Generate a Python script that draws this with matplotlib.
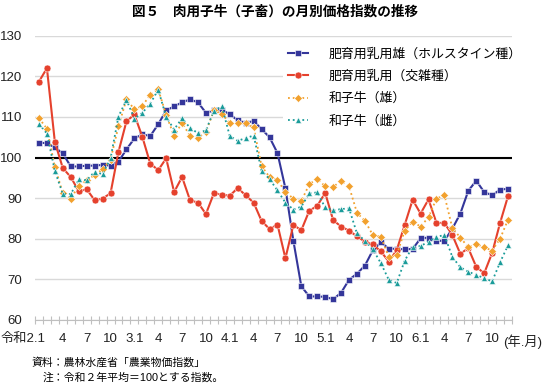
import numpy as np
import matplotlib
matplotlib.use("Agg")
import matplotlib.pyplot as plt
import matplotlib.transforms as mtransforms

plt.rcParams['font.family'] = ['Liberation Sans', 'Noto Sans CJK JP', 'DejaVu Sans']

# ============================================================================
# DATA (monthly index, 令和2.1 - 令和6.12, 令和2年平均 = 100)
# ============================================================================

holstein = [103.7, 103.5, 102.5, 101.0, 97.8, 97.8, 98.0, 98.0, 98.2, 98.0,
            99.0, 102.0, 104.7, 105.7, 105.3, 108.2, 111.6, 112.6, 113.6, 114.3,
            113.6, 111.0, 111.6, 111.8, 110.6, 109.2, 108.5, 109.0, 107.0, 105.0,
            101.1, 92.4, 79.5, 68.3, 65.8, 65.8, 65.7, 65.1, 66.7, 69.9,
            71.4, 73.4, 77.2, 79.1, 77.6, 77.5, 77.4, 77.5, 80.1, 80.3,
            79.5, 79.5, 82.5, 86.2, 91.8, 94.3, 91.5, 90.7, 92.1, 92.3]

crossbred = [118.7, 122.0, 103.8, 97.4, 95.2, 91.7, 92.2, 89.5, 89.9, 91.2,
             101.4, 108.9, 110.6, 105.1, 98.5, 96.9, 99.8, 91.5, 95.2, 89.5,
             88.9, 86.1, 91.2, 90.9, 90.6, 92.5, 90.7, 88.9, 84.4, 82.4,
             83.5, 75.2, 83.4, 82.1, 86.9, 88.1, 91.3, 84.6, 83.0, 82.0,
             80.6, 79.3, 78.6, 76.9, 74.4, 77.2, 83.4, 89.6, 86.2, 89.7,
             83.9, 83.9, 80.9, 76.3, 77.7, 73.1, 71.5, 76.5, 83.9, 90.5]

wagyu_m = [109.7, 107.1, 97.7, 91.2, 89.9, 93.0, 94.4, 95.7, 97.1, 99.5,
           107.7, 114.3, 111.9, 112.7, 115.5, 116.8, 110.5, 105.3, 108.6, 105.3,
           104.8, 106.3, 111.6, 110.8, 108.4, 108.4, 108.4, 107.4, 97.9, 95.2,
           94.5, 91.5, 89.9, 89.3, 93.4, 94.8, 92.9, 92.8, 94.2, 92.9,
           86.4, 84.4, 80.9, 80.5, 75.6, 76.0, 82.0, 84.2, 83.0, 85.3,
           89.9, 90.7, 82.6, 80.3, 77.9, 78.7, 77.9, 77.1, 80.0, 84.7]

wagyu_f = [108.3, 105.9, 96.7, 91.0, 91.0, 94.6, 94.4, 96.5, 95.9, 99.8,
           110.1, 114.2, 109.6, 111.0, 113.3, 116.7, 110.0, 106.9, 109.7, 107.3,
           106.0, 106.7, 111.5, 112.6, 105.3, 104.1, 104.8, 105.4, 96.8, 94.7,
           91.9, 88.9, 87.2, 87.9, 91.2, 91.4, 87.7, 87.0, 87.3, 87.5,
           81.3, 79.5, 77.4, 74.0, 69.9, 69.1, 74.6, 78.0, 78.2, 79.3,
           80.5, 80.9, 75.5, 73.0, 71.9, 71.1, 70.3, 69.5, 74.2, 78.4]

tick_labels = ['令和2.1', '4', '7', '10', '3.1', '4', '7', '10', '4.1', '4',
               '7', '10', '5.1', '4', '7', '10', '6.1', '4', '7', '10']

series_names = ['肥育用乳用雄（ホルスタイン種）', '肥育用乳用（交雑種）',
                '和子牛（雄）', '和子牛（雌）']

# ============================================================================
# PLOT
# ============================================================================

x = np.arange(len(holstein))

fig = plt.figure(figsize=(5.5, 3.83), dpi=100)
ax = fig.add_axes([35 / 550, 1 - 320 / 383, 477 / 550, (320 - 35.7) / 383])

ax.set_ylim(60, 130)
ax.set_xlim(-0.5, len(x) - 0.5)
ax.set_yticks(np.arange(60, 131, 10))
ax.grid(axis='y', color='#d9d9d9', linewidth=1.0)
ax.set_axisbelow(True)
ax.axhline(100, color='black', linewidth=1.5, zorder=1.5)

ax.plot(x, holstein, color='#34369a', linewidth=1.5, marker='s', markersize=4.5,
        markeredgecolor='white', markeredgewidth=0.4, label=series_names[0], zorder=3)
ax.plot(x, crossbred, color='#e5412d', linewidth=1.5, marker='o', markersize=5,
        markeredgecolor='white', markeredgewidth=0.4, label=series_names[1], zorder=3)
ax.plot(x, wagyu_m, color='#f2a12e', linewidth=1.3, linestyle=':', marker='D',
        markersize=4, markeredgecolor='white', markeredgewidth=0.4,
        label=series_names[2], zorder=3)
ax.plot(x, wagyu_f, color='#1b9c9a', linewidth=1.3, linestyle=':', marker='^',
        markersize=4.5, markeredgecolor='white', markeredgewidth=0.4,
        label=series_names[3], zorder=3)

for s in ['top', 'right', 'left']:
    ax.spines[s].set_visible(False)
ax.spines['bottom'].set_color('#bfbfbf')

ax.tick_params(axis='y', length=0, pad=9, labelsize=9.5, labelcolor='#222222')
ax.set_xticks(x[::3])
ax.set_xticklabels(tick_labels)
ax.tick_params(axis='x', which='major', length=0, pad=9, labelsize=9.5,
               labelcolor='#222222')
ax.set_xticks(np.arange(-0.5, len(x), 1), minor=True)
ax.tick_params(axis='x', which='minor', direction='inout', length=6,
               color='#bfbfbf', width=0.8)

# first label sits left of its month
first = ax.get_xticklabels()[0]
first.set_ha('right')
first.set_transform(first.get_transform() +
                    mtransforms.ScaledTranslation(7 / 100, 0, fig.dpi_scale_trans))

ax.text(58.4, -0.075, '(年.月)', transform=ax.get_xaxis_transform(),
        ha='left', va='center', fontsize=9.5, color='#222222', clip_on=False)

leg = ax.legend(loc='upper left', bbox_to_anchor=(0.52, 0.975), borderaxespad=0,
                frameon=True, fontsize=9.3, handlelength=1.5, handletextpad=1.6,
                labelspacing=0.78, borderpad=0.4)
leg.get_frame().set_facecolor('white')
leg.get_frame().set_edgecolor('none')
leg.get_frame().set_alpha(1.0)

fig.text(0.5, 1 - 12 / 383, '図５　肉用子牛（子畜）の月別価格指数の推移',
         ha='center', va='center', fontsize=9.8, fontweight='bold')
fig.text(32 / 550, 1 - 362 / 383, '資料：農林水産省「農業物価指数」',
         ha='left', va='center', fontsize=7.8)
fig.text(43 / 550, 1 - 377 / 383, '注：令和２年平均＝100とする指数。',
         ha='left', va='center', fontsize=7.8)

fig.savefig('out.png', dpi=100)
